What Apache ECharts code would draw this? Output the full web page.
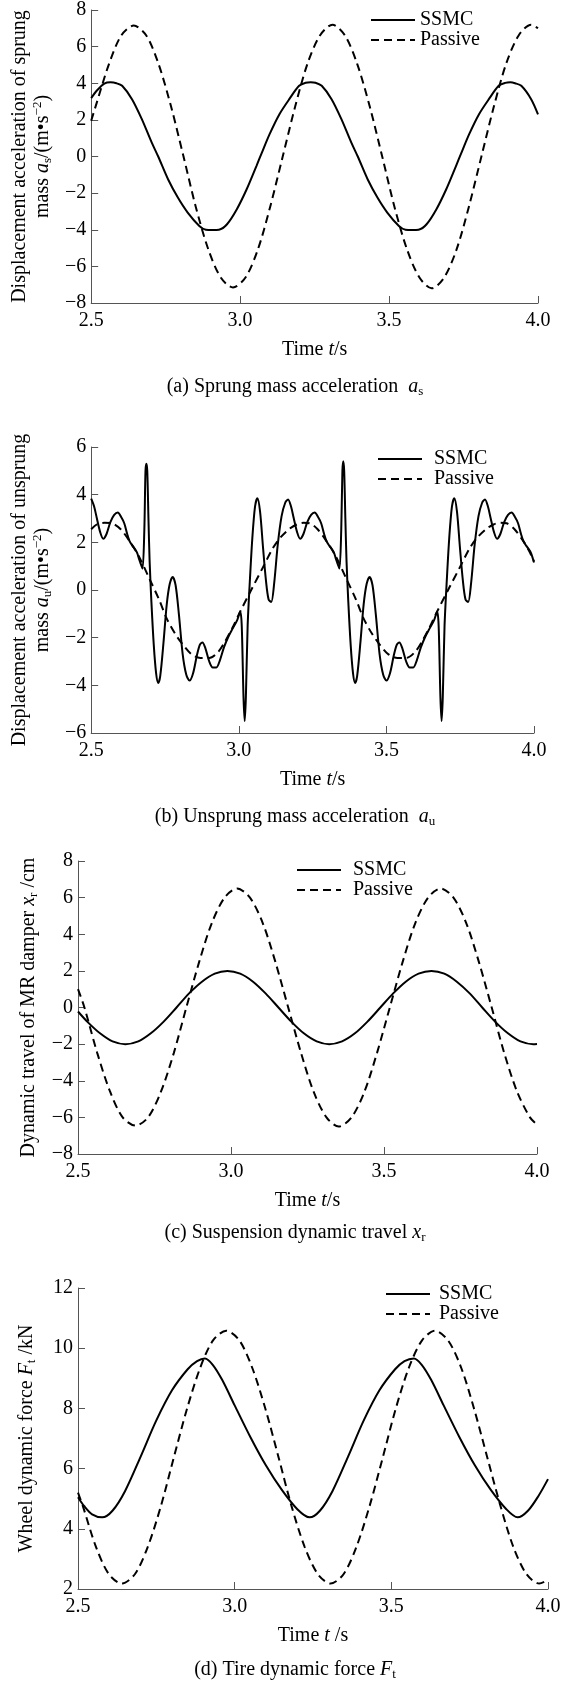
<!DOCTYPE html>
<html><head><meta charset="utf-8">
<script src="https://cdn.jsdelivr.net/npm/echarts@6/dist/echarts.min.js"></script>
<style>html,body{margin:0;padding:0;background:#fff}#c{width:565px;height:1684px}</style>
</head><body><div id="c"></div>
<script>
// ---------- data (t in s, value) ----------
const xTicks = [2.5, 3.0, 3.5, 4.0];
const legendNames = ['SSMC', 'Passive'];

const aSSMC = [[2.500,3.19],[2.520,3.62],[2.544,3.98],[2.565,4.05],[2.585,4.0],[2.604,3.86],[2.637,3.13],[2.670,2.04],[2.703,0.77],[2.725,0.0],[2.758,-1.24],[2.791,-2.24],[2.824,-3.06],[2.863,-3.79],[2.885,-4.0],[2.907,-4.02],[2.929,-4.0],[2.956,-3.70],[2.989,-2.88],[3.022,-1.79],[3.055,-0.51],[3.071,0.13],[3.099,1.22],[3.132,2.31],[3.165,3.13],[3.198,3.86],[3.220,4.03],[3.237,4.06],[3.253,4.03],[3.274,3.86],[3.307,3.13],[3.340,2.04],[3.373,0.77],[3.395,0.0],[3.428,-1.24],[3.461,-2.24],[3.494,-3.06],[3.533,-3.79],[3.555,-4.0],[3.577,-4.02],[3.599,-4.0],[3.626,-3.70],[3.659,-2.88],[3.692,-1.79],[3.725,-0.51],[3.741,0.13],[3.769,1.22],[3.802,2.31],[3.835,3.13],[3.868,3.86],[3.890,4.02],[3.907,4.05],[3.923,4.0],[3.944,3.86],[3.977,3.13],[4.000,2.30]];
const aPassive = [[2.500,1.95],[2.518,2.9],[2.560,5.06],[2.601,6.61],[2.643,7.15],[2.685,6.61],[2.726,5.06],[2.768,2.74],[2.810,0.0],[2.851,-2.74],[2.893,-5.06],[2.935,-6.61],[2.976,-7.15],[3.018,-6.61],[3.060,-5.06],[3.101,-2.74],[3.143,0.0],[3.185,2.74],[3.226,5.06],[3.268,6.61],[3.310,7.2],[3.352,6.61],[3.393,5.06],[3.435,2.74],[3.477,0.0],[3.518,-2.74],[3.560,-5.06],[3.602,-6.61],[3.643,-7.2],[3.685,-6.61],[3.727,-5.06],[3.768,-2.74],[3.810,0.0],[3.852,2.74],[3.893,5.06],[3.935,6.61],[3.977,7.2],[4.000,7.0]];

const bSSMC = [[2.500,3.83],[2.510,3.5],[2.519,3.02],[2.530,2.45],[2.541,2.15],[2.552,2.35],[2.565,2.85],[2.578,3.15],[2.590,3.25],[2.602,3.05],[2.612,2.8],[2.622,2.35],[2.630,2.05],[2.640,1.85],[2.648,1.72],[2.656,1.55],[2.662,1.3],[2.668,1.1],[2.674,0.9],[2.680,2.5],[2.684,5.0],[2.687,5.3],[2.690,5.0],[2.694,3.0],[2.698,1.2],[2.704,-0.5],[2.712,-2.3],[2.720,-3.5],[2.727,-3.9],[2.734,-3.6],[2.745,-2.2],[2.756,-0.6],[2.766,0.25],[2.776,0.55],[2.786,0.2],[2.797,-1.0],[2.810,-2.7],[2.822,-3.55],[2.833,-3.8],[2.845,-3.5],[2.858,-2.75],[2.868,-2.3],[2.877,-2.2],[2.887,-2.45],[2.900,-3.0],[2.912,-3.25],[2.924,-3.25],[2.936,-2.95],[2.950,-2.4],[2.965,-1.95],[2.980,-1.6],[2.995,-1.25],[3.005,-0.9],[3.010,-1.5],[3.016,-4.5],[3.020,-5.5],[3.024,-4.5],[3.030,-1.5],[3.038,0.5],[3.046,2.2],[3.055,3.5],[3.063,3.85],[3.072,3.3],[3.082,1.8],[3.092,0.4],[3.101,-0.4],[3.110,-0.5],[3.120,0.3],[3.132,1.9],[3.145,3.1],[3.157,3.65],[3.167,3.8],[3.177,3.5],[3.186,3.02],[3.197,2.45],[3.208,2.15],[3.219,2.35],[3.232,2.85],[3.245,3.15],[3.257,3.25],[3.269,3.05],[3.279,2.8],[3.289,2.35],[3.297,2.05],[3.307,1.85],[3.315,1.72],[3.323,1.55],[3.329,1.3],[3.335,1.1],[3.341,0.9],[3.347,2.5],[3.351,5.0],[3.354,5.4],[3.357,5.0],[3.361,3.0],[3.365,1.2],[3.371,-0.5],[3.379,-2.3],[3.387,-3.5],[3.394,-3.9],[3.401,-3.6],[3.412,-2.2],[3.423,-0.6],[3.433,0.25],[3.443,0.55],[3.453,0.2],[3.464,-1.0],[3.477,-2.7],[3.489,-3.55],[3.500,-3.8],[3.512,-3.5],[3.525,-2.75],[3.535,-2.3],[3.544,-2.2],[3.554,-2.45],[3.567,-3.0],[3.579,-3.25],[3.591,-3.25],[3.603,-2.95],[3.617,-2.4],[3.632,-1.95],[3.647,-1.6],[3.662,-1.25],[3.672,-0.9],[3.677,-1.5],[3.683,-4.5],[3.687,-5.5],[3.691,-4.5],[3.697,-1.5],[3.705,0.5],[3.713,2.2],[3.722,3.5],[3.730,3.85],[3.739,3.3],[3.749,1.8],[3.759,0.4],[3.768,-0.4],[3.777,-0.5],[3.787,0.3],[3.799,1.9],[3.812,3.1],[3.824,3.65],[3.834,3.8],[3.844,3.5],[3.853,3.02],[3.864,2.45],[3.875,2.15],[3.886,2.35],[3.899,2.85],[3.912,3.15],[3.924,3.25],[3.936,3.05],[3.946,2.8],[3.956,2.35],[3.964,2.05],[3.974,1.85],[3.982,1.72],[3.990,1.55],[4.000,1.15]];
const bPassive = [[2.500,2.55],[2.520,2.75],[2.545,2.82],[2.570,2.8],[2.600,2.55],[2.630,2.05],[2.660,1.45],[2.700,0.4],[2.730,-0.4],[2.756,-1.2],[2.785,-1.85],[2.811,-2.3],[2.840,-2.7],[2.870,-2.85],[2.900,-2.85],[2.930,-2.6],[2.954,-2.15],[2.980,-1.55],[3.003,-0.95],[3.042,0.0],[3.086,1.05],[3.115,1.75],[3.141,2.2],[3.170,2.55],[3.196,2.75],[3.220,2.82],[3.240,2.8],[3.267,2.55],[3.297,2.05],[3.327,1.45],[3.367,0.4],[3.397,-0.4],[3.423,-1.2],[3.452,-1.85],[3.478,-2.3],[3.507,-2.7],[3.537,-2.85],[3.567,-2.85],[3.597,-2.6],[3.621,-2.15],[3.647,-1.55],[3.670,-0.95],[3.709,0.0],[3.753,1.05],[3.782,1.75],[3.808,2.2],[3.837,2.55],[3.863,2.75],[3.887,2.82],[3.907,2.8],[3.934,2.55],[3.964,2.05],[3.985,1.6],[4.000,1.2]];

const cSSMC = [[2.500,-0.22],[2.530,-0.77],[2.572,-1.41],[2.613,-1.85],[2.655,-2.0],[2.697,-1.85],[2.738,-1.41],[2.780,-0.77],[2.822,0.0],[2.863,0.77],[2.905,1.41],[2.947,1.85],[2.988,2.0],[3.030,1.85],[3.072,1.41],[3.113,0.77],[3.155,0.0],[3.197,-0.77],[3.238,-1.41],[3.280,-1.85],[3.321,-2.0],[3.363,-1.85],[3.405,-1.41],[3.446,-0.77],[3.488,0.0],[3.530,0.77],[3.571,1.41],[3.613,1.85],[3.655,2.0],[3.697,1.85],[3.738,1.41],[3.780,0.77],[3.821,0.0],[3.863,-0.77],[3.905,-1.41],[3.946,-1.85],[3.988,-2.0],[4.000,-1.99]];
const cPassive = [[2.500,1.0],[2.521,0.0],[2.563,-2.49],[2.605,-4.6],[2.646,-6.0],[2.688,-6.45],[2.729,-6.0],[2.771,-4.6],[2.813,-2.49],[2.854,0.0],[2.896,2.49],[2.937,4.6],[2.979,6.0],[3.020,6.5],[3.062,6.0],[3.104,4.6],[3.145,2.49],[3.187,0.0],[3.229,-2.49],[3.270,-4.6],[3.312,-6.0],[3.352,-6.5],[3.394,-6.0],[3.436,-4.6],[3.477,-2.49],[3.519,0.0],[3.561,2.49],[3.602,4.6],[3.644,6.0],[3.685,6.5],[3.727,6.0],[3.769,4.6],[3.810,2.49],[3.852,0.0],[3.893,-2.49],[3.935,-4.6],[3.977,-6.0],[4.000,-6.4]];

const dSSMC = [[2.500,5.05],[2.520,4.75],[2.545,4.48],[2.577,4.38],[2.610,4.6],[2.650,5.25],[2.700,6.4],[2.750,7.6],[2.800,8.6],[2.850,9.3],[2.880,9.57],[2.905,9.66],[2.930,9.45],[2.960,8.95],[3.000,8.1],[3.050,7.05],[3.100,6.1],[3.150,5.3],[3.200,4.65],[3.239,4.38],[3.272,4.6],[3.312,5.25],[3.362,6.4],[3.412,7.6],[3.462,8.6],[3.512,9.3],[3.542,9.57],[3.572,9.66],[3.597,9.45],[3.627,8.95],[3.667,8.1],[3.717,7.05],[3.767,6.1],[3.817,5.3],[3.867,4.65],[3.903,4.38],[3.936,4.6],[3.970,5.1],[4.000,5.65]];
const dPassive = [[2.500,5.2],[2.515,4.77],[2.557,3.41],[2.598,2.5],[2.640,2.18],[2.682,2.5],[2.723,3.41],[2.765,4.77],[2.806,6.38],[2.848,7.99],[2.890,9.35],[2.931,10.26],[2.973,10.58],[3.015,10.26],[3.056,9.35],[3.098,7.99],[3.140,6.38],[3.181,4.77],[3.223,3.41],[3.265,2.5],[3.306,2.18],[3.348,2.5],[3.389,3.41],[3.431,4.77],[3.473,6.38],[3.514,7.99],[3.556,9.35],[3.598,10.26],[3.639,10.58],[3.681,10.26],[3.723,9.35],[3.764,7.99],[3.806,6.38],[3.848,4.77],[3.889,3.41],[3.931,2.5],[3.972,2.18],[4.000,2.3]];

// y-axis ranges [min, max, interval]
const yRanges = [[-8, 8, 2], [-6, 6, 2], [-8, 8, 2], [2, 12, 2]];

// ---------- layout / styles ----------
const FONT = 'Liberation Serif';
const rich = {
  n: {fontFamily: FONT, fontSize: 20, color: '#000'},
  i: {fontFamily: FONT, fontStyle: 'italic', fontSize: 20, color: '#000', lineHeight: 23},
  sub: {fontFamily: FONT, fontSize: 13, color: '#000', verticalAlign: 'bottom', lineHeight: 14},
  sup: {fontFamily: FONT, fontSize: 13, color: '#000', verticalAlign: 'top', lineHeight: 14}
};
const grids = [
  {left: 82, top: 10, width: 456, height: 293},
  {left: 83, top: 447, width: 451, height: 286},
  {left: 78, top: 861, width: 459, height: 293},
  {left: 78, top: 1288, width: 470, height: 301}
];
const yNames = [
  'Displacement acceleration of sprung\nmass {i|a}{sub|s}/(m\u2022s{sup|\u22122})',
  'Displacement acceleration of unsprung\nmass {i|a}{sub|u}/(m\u2022s{sup|\u22122})',
  'Dynamic travel of MR damper {i|x}{sub|r} /cm',
  'Wheel dynamic force {i|F}{sub|t} /kN'
];
const yNameGaps = [30, 30, 38, 40];
const xNames = ['Time {i|t}/s', 'Time {i|t}/s', 'Time {i|t}/s', 'Time {i|t} /s'];
const captions = [
  ['(a) Sprung mass acceleration  {i|a}{sub|s}', 387],
  ['(b) Unsprung mass acceleration  {i|a}{sub|u}', 817],
  ['(c) Suspension dynamic travel {i|x}{sub|r}', 1233],
  ['(d) Tire dynamic force {i|F}{sub|t}', 1670]
];
const legendPos = [[365, 5, 0], [372, 444, 7], [291, 855, 7], [380, 1279, 4]];

const axisLineStyle = {color: '#555', width: 1};
const fmtNum = v => '{n|' + (v < 0 ? '\u2212' + Math.abs(v) : String(v)) + '}';
const baseText = {color: '#000', fontFamily: FONT, fontSize: 20};

const xAxes = grids.map((g, i) => ({
  type: 'value', gridIndex: i, min: 2.5, max: 4.0, interval: 0.5,
  axisLine: {show: true, onZero: false, lineStyle: axisLineStyle},
  axisTick: {show: true, inside: true, length: 7, lineStyle: axisLineStyle},
  splitLine: {show: false},
  axisLabel: Object.assign({}, baseText, {margin: 8, rich, formatter: v => '{n|' + v.toFixed(1) + '}'}),
  name: xNames[i], nameLocation: 'middle', nameGap: 35,
  nameTextStyle: Object.assign({}, baseText, {lineHeight: 23, rich})
}));
const yAxes = grids.map((g, i) => ({
  type: 'value', gridIndex: i, min: yRanges[i][0], max: yRanges[i][1], interval: yRanges[i][2],
  axisLine: {show: true, onZero: false, lineStyle: axisLineStyle},
  axisTick: {show: true, inside: true, length: 7, lineStyle: axisLineStyle},
  splitLine: {show: false},
  axisLabel: Object.assign({}, baseText, {margin: 5, rich, formatter: fmtNum}),
  name: yNames[i], nameLocation: 'middle', nameRotate: 90, nameGap: yNameGaps[i],
  nameTextStyle: Object.assign({}, baseText, {lineHeight: 23, align: 'center', rich})
}));

const seriesData = [[aSSMC, aPassive], [bSSMC, bPassive], [cSSMC, cPassive], [dSSMC, dPassive]];
const series = [];
seriesData.forEach((pair, i) => {
  series.push({
    name: 'SSMC', type: 'line', xAxisIndex: i, yAxisIndex: i, data: pair[0],
    symbol: 'none', showSymbol: false, smooth: 0.3, lineStyle: {color: '#000', width: 2}, itemStyle: {color: '#000'}, z: 3
  });
  series.push({
    name: 'Passive', type: 'line', xAxisIndex: i, yAxisIndex: i, data: pair[1],
    symbol: 'none', showSymbol: false, smooth: 0.3, lineStyle: {color: '#000', width: 2, type: [8, 5]}, itemStyle: {color: '#000'}, z: 2
  });
});

const legends = legendPos.map(p => ({
  data: legendNames, orient: 'vertical', left: p[0], top: p[1],
  itemWidth: 44, itemHeight: 14, itemGap: 0, selectedMode: false,
  itemStyle: {opacity: 0, borderWidth: 0},
  formatter: name => '{n|' + name + '}',
  textStyle: Object.assign({}, baseText, {lineHeight: 20, padding: [0, 0, 0, p[2]], rich})
}));

const graphic = captions.map(c => ({
  type: 'text', x: 295, y: c[1],
  style: {text: c[0], rich, fill: '#000', font: '20px ' + FONT, textAlign: 'center', textVerticalAlign: 'middle', align: 'center', verticalAlign: 'middle'}
}));

const chart = echarts.init(document.getElementById('c'), null, {renderer: 'canvas'});
chart.setOption({
  animation: false,
  backgroundColor: '#fff',
  textStyle: {fontFamily: FONT},
  grid: grids,
  xAxis: xAxes,
  yAxis: yAxes,
  legend: legends,
  series,
  graphic
});
</script>
</body></html>
